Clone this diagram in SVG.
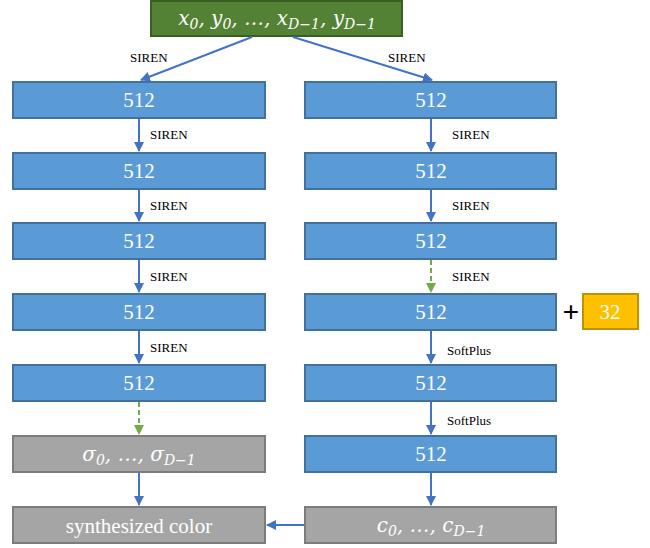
<svg xmlns="http://www.w3.org/2000/svg" width="650" height="548" viewBox="0 0 650 548">
<defs>
<marker id="ab" viewBox="0 0 10 10" refX="9" refY="5" markerWidth="5" markerHeight="5" orient="auto"><path d="M0,0 L10,5 L0,10 z" fill="#4472c4"/></marker>
<marker id="ag" viewBox="0 0 10 10" refX="9" refY="5" markerWidth="5" markerHeight="5" orient="auto"><path d="M0,0 L10,5 L0,10 z" fill="#70ad47"/></marker>
<style>
.b{fill:#5b9bd5;stroke:#41719c;stroke-width:2}
.g{fill:#a5a5a5;stroke:#7c7c7c;stroke-width:2}
.t{font-family:'Liberation Serif','DejaVu Serif',serif;font-size:21px;fill:#fff;text-anchor:middle}
.m{font-family:'DejaVu Serif','Liberation Serif',serif;font-style:italic;font-size:20px;fill:#fff;text-anchor:middle}
.l{font-family:'Liberation Serif','DejaVu Serif',serif;font-size:13px;fill:#000}
.c{stroke:#4472c4;stroke-width:2;fill:none;marker-end:url(#ab)}
.d{stroke:#70ad47;stroke-width:2;fill:none;stroke-dasharray:5,3;marker-end:url(#ag)}
</style>
</defs>
<g id="input"><rect x="151" y="1" width="251" height="35" fill="#548235" stroke="#3b5e25" stroke-width="2"/>
<text class="m" x="277" y="25">x<tspan font-size="14" dy="4">0</tspan><tspan dy="-4">, y</tspan><tspan font-size="14" dy="4">0</tspan><tspan dy="-4">, …, x</tspan><tspan font-size="14" dy="4">D−1</tspan><tspan dy="-4">, y</tspan><tspan font-size="14" dy="4">D−1</tspan></text></g>
<g id="L1"><rect class="b" x="13" y="82" width="252" height="36"/><text class="t" x="139" y="107">512</text></g>
<g id="L2"><rect class="b" x="13" y="153" width="252" height="36"/><text class="t" x="139" y="178">512</text></g>
<g id="L3"><rect class="b" x="13" y="223" width="252" height="36"/><text class="t" x="139" y="248">512</text></g>
<g id="L4"><rect class="b" x="13" y="294" width="252" height="36"/><text class="t" x="139" y="319">512</text></g>
<g id="L5"><rect class="b" x="13" y="365" width="252" height="36"/><text class="t" x="139" y="390">512</text></g>
<g id="sigma"><rect class="g" x="13" y="436" width="252" height="36"/>
<text class="m" x="139" y="461">σ<tspan font-size="14" dy="4">0</tspan><tspan dy="-4">, …, σ</tspan><tspan font-size="14" dy="4">D−1</tspan></text></g>
<g id="synth"><rect class="g" x="13" y="507" width="252" height="36"/><text class="t" x="139" y="533" font-size="24">synthesized color</text></g>
<g id="R1"><rect class="b" x="305" y="82" width="251" height="36"/><text class="t" x="431" y="107">512</text></g>
<g id="R2"><rect class="b" x="305" y="153" width="251" height="36"/><text class="t" x="431" y="178">512</text></g>
<g id="R3"><rect class="b" x="305" y="223" width="251" height="36"/><text class="t" x="431" y="248">512</text></g>
<g id="R4"><rect class="b" x="305" y="294" width="251" height="36"/><text class="t" x="431" y="319">512</text></g>
<g id="R5"><rect class="b" x="305" y="365" width="251" height="36"/><text class="t" x="431" y="390">512</text></g>
<g id="R6"><rect class="b" x="305" y="436" width="251" height="36"/><text class="t" x="431" y="461">512</text></g>
<g id="cbox"><rect class="g" x="305" y="507" width="251" height="36"/>
<text class="m" x="431" y="532">c<tspan font-size="14" dy="4">0</tspan><tspan dy="-4">, …, c</tspan><tspan font-size="14" dy="4">D−1</tspan></text></g>
<g id="plus"><text x="571" y="321" font-family="'Liberation Sans',sans-serif" font-size="28" fill="#000" text-anchor="middle">+</text></g>
<g id="latent"><rect x="583" y="294" width="55" height="35" fill="#ffc000" stroke="#bf9000" stroke-width="2"/><text class="t" x="610" y="319">32</text></g>
<g id="connectors">
<line class="c" x1="252" y1="37" x2="141" y2="80"/>
<line class="c" x1="293" y1="37" x2="432" y2="80"/>
<line class="c" x1="139" y1="119" x2="139" y2="151"/>
<line class="c" x1="139" y1="190" x2="139" y2="221"/>
<line class="c" x1="139" y1="260" x2="139" y2="292"/>
<line class="c" x1="139" y1="331" x2="139" y2="363"/>
<line class="d" x1="139" y1="402" x2="139" y2="434"/>
<line class="c" x1="139" y1="473" x2="139" y2="505"/>
<line class="c" x1="431" y1="119" x2="431" y2="151"/>
<line class="c" x1="431" y1="190" x2="431" y2="221"/>
<line class="d" x1="431" y1="260" x2="431" y2="292"/>
<line class="c" x1="431" y1="331" x2="431" y2="363"/>
<line class="c" x1="431" y1="402" x2="431" y2="434"/>
<line class="c" x1="431" y1="473" x2="431" y2="505"/>
<line class="c" x1="304" y1="525" x2="267" y2="525"/>
<text class="l" x="130" y="62">SIREN</text>
<text class="l" x="388" y="62">SIREN</text>
<text class="l" x="150" y="139">SIREN</text>
<text class="l" x="150" y="210">SIREN</text>
<text class="l" x="150" y="281">SIREN</text>
<text class="l" x="150" y="352">SIREN</text>
<text class="l" x="452" y="139">SIREN</text>
<text class="l" x="452" y="210">SIREN</text>
<text class="l" x="452" y="281">SIREN</text>
<text class="l" x="447" y="355">SoftPlus</text>
<text class="l" x="447" y="425">SoftPlus</text>
</g>
</svg>
